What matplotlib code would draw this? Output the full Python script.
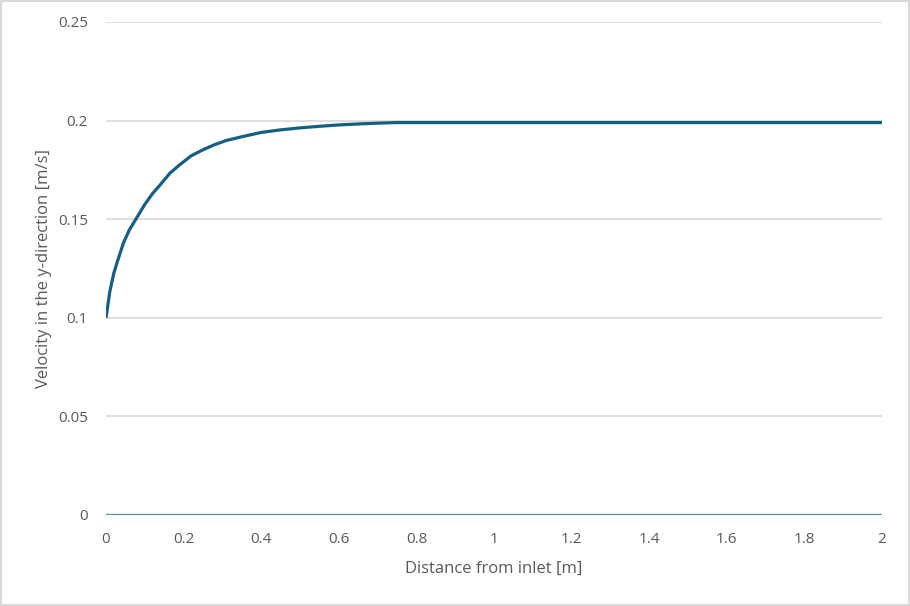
import matplotlib.pyplot as plt

# distance from inlet [m] and velocity in y-direction [m/s]
distance = [0, 0.01, 0.02, 0.03, 0.045, 0.06, 0.08, 0.1, 0.12, 0.14,
            0.165, 0.19, 0.22, 0.25, 0.28, 0.31, 0.35, 0.4, 0.45, 0.5, 0.55,
            0.6, 0.65, 0.7, 0.75, 1.0, 1.5, 2.0]
velocity = [0.100, 0.1135, 0.1225, 0.129, 0.138, 0.1445, 0.151, 0.1575,
            0.1630, 0.1675, 0.1734, 0.1776, 0.1822, 0.1852, 0.1878, 0.1899,
            0.1918, 0.1940, 0.1953, 0.1963, 0.1971, 0.1978, 0.1983, 0.1987,
            0.1990, 0.1990, 0.1990, 0.1990]
baseline = [0.0] * len(distance)

x_ticks = [0, 0.2, 0.4, 0.6, 0.8, 1, 1.2, 1.4, 1.6, 1.8, 2]
x_labels = ['0', '0.2', '0.4', '0.6', '0.8', '1', '1.2', '1.4', '1.6', '1.8', '2']
y_ticks = [0, 0.05, 0.1, 0.15, 0.2, 0.25]
y_labels = ['0', '0.05', '0.1', '0.15', '0.2', '0.25']

plt.rcParams['font.family'] = ['Open Sans', 'DejaVu Sans']

fig = plt.figure(figsize=(9.1, 6.06), dpi=100)
ax = fig.add_axes([0.1165, 0.1502, 0.8527, 0.8135])

ax.plot(distance, baseline, color='#4e8fa5', linewidth=1.6, solid_capstyle='butt', zorder=3)
ax.plot(distance, velocity, color='#156082', linewidth=2.3, solid_capstyle='butt', zorder=4)

ax.set_xlim(0, 2)
ax.set_ylim(0, 0.25)
ax.set_xticks(x_ticks)
ax.set_xticklabels(x_labels)
ax.set_yticks(y_ticks)
ax.set_yticklabels(y_labels)
ax.tick_params(axis='x', length=0, labelsize=11, labelcolor='#595959', pad=12)
ax.tick_params(axis='y', length=0, labelsize=11, labelcolor='#595959', pad=13)
ax.grid(axis='y', color='#d9d9d9', linewidth=1.2)
ax.set_axisbelow(True)
for s in ax.spines.values():
    s.set_visible(False)

ax.set_xlabel('Distance from inlet [m]', fontsize=12, color='#595959', labelpad=10)
ax.set_ylabel('Velocity in the y-direction [m/s]', fontsize=12, color='#595959', labelpad=4)

# light outer border like the chart frame
fig.patches.append(plt.Rectangle((0.001, 0.001), 0.998, 0.998, transform=fig.transFigure,
                                 fill=False, edgecolor='#d9d9d9', linewidth=1.5))

fig.savefig('out.png', dpi=100)
